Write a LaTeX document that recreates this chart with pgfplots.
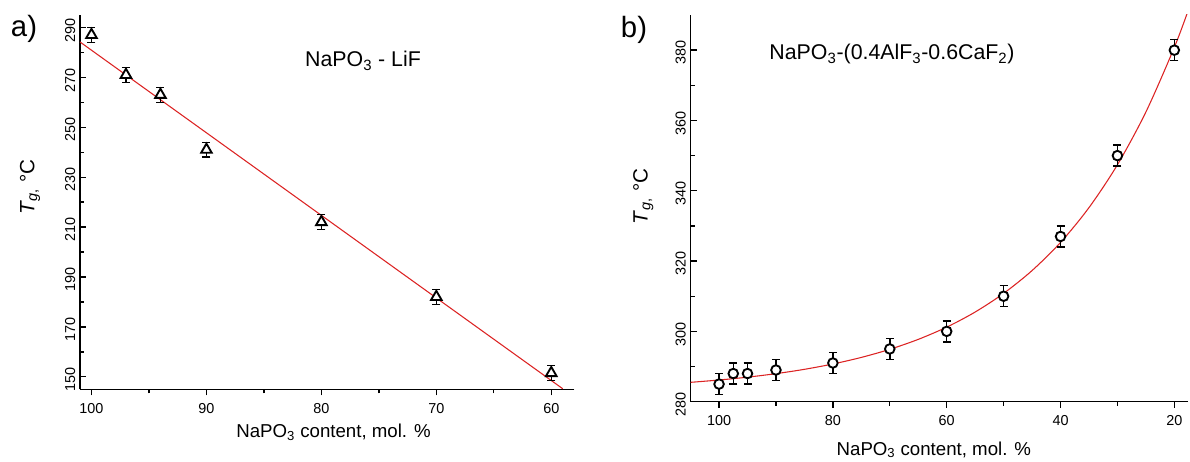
\documentclass[border=0pt]{standalone}
\usepackage{fontspec}
\setmainfont{Liberation Sans}
\usepackage{pgfplots}
\usepackage{pgfplotstable}
\pgfplotsset{compat=1.18}
\definecolor{fitred}{RGB}{220,35,35}

\pgfplotstableread{
x y e
100 287 3
97 271 3
94 263 3
90 241 3
80 212 3
70 182 3
60 151.5 3
}\lifdata

\pgfplotstableread{
x y
101 284.2
59 145.2
}\liffit

\pgfplotstableread{
x y e
100 285 3
97.5 288 3
95 288 3
90 289 3
80 291 3
70 295 3
60 300 3
50 310 3
40 327 3
30 350 3
20 380 3
}\alfdata

\pgfplotstableread{
x y
105 285.5
100 286.16
95 286.97
90 287.97
85 289.2
80 290.72
75 292.59
70 294.89
65 297.72
60 301.2
55 305.5
50 310.8
45 317.3
40 325.3
35 335.2
30 347.4
25 362.4
20 380.8
17.5 391.6
}\alffit

\pgfplotsset{
  panel/.style={
    scale only axis,
    x dir=reverse,
    axis x line*=bottom, axis y line*=left,
    axis line style={line width=1.1pt,-},
    xtick align=outside, ytick align=inside,
    major tick length=4.5pt, minor tick length=3pt,
    every tick/.style={black, line width=1pt},
    tick label style={font=\fontsize{10.8}{13}\selectfont},
    xticklabel style={yshift=-2.5pt},
    yticklabel style={rotate=90, anchor=south, xshift=-2pt},
    /pgf/number format/assume math mode=true,
    xlabel={NaPO\textsubscript{3} content, mol. \%},
    ylabel={\textit{T}\textsubscript{\textit{g},} °C},
    label style={font=\fontsize{14}{17}\selectfont},
    ylabel style={font=\fontsize{15.5}{18}\selectfont},
    clip=true,
  },
  fitline/.style={fitred, line width=0.8pt, no marks},
  pts/.style={black, only marks, mark options={fill=white, line width=1.4pt},
    error bars/.cd, y dir=both, y explicit,
    error bar style={line width=1.1pt, black},
    error mark options={rotate=90, mark size=3pt, line width=1.1pt, black}},
}

\begin{document}
\begin{tikzpicture}
\useasboundingbox (0,0) rectangle (892.5pt,345.75pt);

\begin{axis}[panel,
  at={(60pt,53.8pt)}, anchor=south west,
  width=370.7pt, height=280.7pt,
  xmin=58, xmax=101, ymin=145, ymax=295,
  xtick={60,70,80,90,100}, minor xtick={65,75,85,95},
  ytick={150,170,...,290}, minor ytick={160,180,...,280},
  xlabel style={at={(axis description cs:0.513,-0.130)}, anchor=base},
  ylabel style={at={(axis description cs:-0.101,0.54)}, anchor=center},
]
\addplot[fitline] table[x=x,y=y] {\liffit};
\addplot[mark=triangle*, mark size=4.6pt, pts] table[x=x,y=y,y error=e] {\lifdata};
\end{axis}

\begin{axis}[panel,
  at={(517.95pt,44.5pt)}, anchor=south west,
  width=373.05pt, height=290pt,
  xmin=17.6, xmax=105, ymin=280, ymax=390,
  xtick={20,40,60,80,100}, minor xtick={30,50,70,90},
  ytick={280,300,...,380}, minor ytick={290,310,...,370},
  xlabel style={at={(axis description cs:0.489,-0.138)}, anchor=base},
  ylabel style={at={(axis description cs:-0.095,0.531)}, anchor=center},
]
\addplot[fitline, smooth] table[x=x,y=y] {\alffit};
\addplot[mark=*, mark size=3.6pt, mark options={line width=1.7pt}, pts] table[x=x,y=y,y error=e] {\alfdata};
\end{axis}

\node[font=\fontsize{22}{26}\selectfont] at (18pt,324pt) {a)};
\node[font=\fontsize{22}{26}\selectfont] at (475.5pt,323.25pt) {b)};
\node[anchor=base, font=\fontsize{16}{19}\selectfont] at (272.25pt,295.7pt) {NaPO\textsubscript{3} - LiF};
\node[anchor=base, font=\fontsize{16}{19}\selectfont] at (669pt,300.75pt) {NaPO\textsubscript{3}-(0.4AlF\textsubscript{3}-0.6CaF\textsubscript{2})};
\end{tikzpicture}
\end{document}
